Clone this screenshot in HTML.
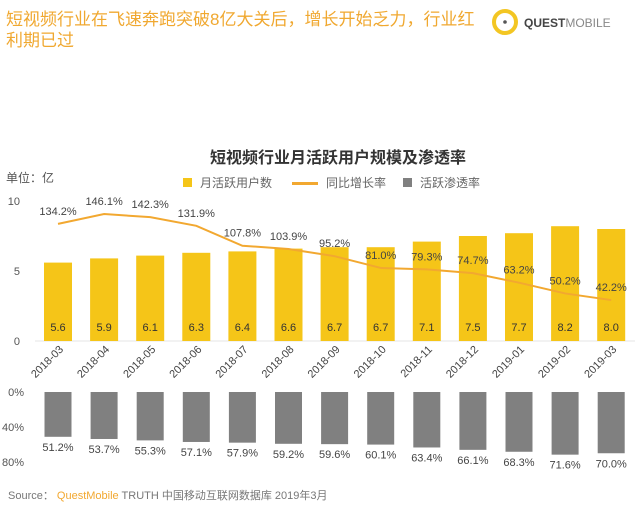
<!DOCTYPE html>
<html><head><meta charset="utf-8"><style>
body{margin:0;background:#fff;font-family:"Liberation Sans","Noto Sans CJK SC",sans-serif;}
#wrap{position:relative;width:640px;height:505px;overflow:hidden;background:#fff}
.t{position:absolute;white-space:nowrap}
</style></head><body>
<div id="wrap">
<div class="t" style="left:6px;top:9px;font-size:17px;line-height:21px;color:#f0a830;width:485px;white-space:normal">短视频行业在飞速奔跑突破8亿大关后，增长开始乏力，行业红利期已过</div>
<div style="position:absolute;left:490px;top:6px;width:150px;height:32px">
<svg width="150" height="32"><circle cx="15" cy="16" r="11" fill="none" stroke="#f3c623" stroke-width="4"/><circle cx="15" cy="16" r="1.8" fill="#555"/>
<text x="34" y="21" font-size="12" font-weight="bold" fill="#444" font-family="Liberation Sans,sans-serif">QUEST<tspan font-weight="normal" fill="#888">MOBILE</tspan></text></svg></div>
<div class="t" style="left:210px;top:144px;font-size:16px;font-weight:bold;color:#333">短视频行业月活跃用户规模及渗透率</div>
<div class="t" style="left:6px;top:169px;font-size:12px;color:#555">单位：亿</div>
<div class="t" style="left:183px;top:174px;font-size:12px;color:#666"><span style="display:inline-block;width:9px;height:9px;background:#f5c518;margin-right:8px"></span>月活跃用户数</div>
<div class="t" style="left:292px;top:174px;font-size:12px;color:#666"><span style="display:inline-block;width:26px;height:3px;background:#f2a830;vertical-align:middle;margin-right:8px"></span>同比增长率</div>
<div class="t" style="left:403px;top:174px;font-size:12px;color:#666"><span style="display:inline-block;width:9px;height:9px;background:#808080;margin-right:8px"></span>活跃渗透率</div>
<svg id="chart" width="640" height="505" style="position:absolute;left:0;top:0"></svg>
<div class="t" style="left:8px;top:487px;font-size:11px;color:#777">Source：&nbsp;<span style="color:#f2a830">QuestMobile</span> TRUTH 中国移动互联网数据库 2019年3月</div>
</div>
<script>
const categories=["2018-03","2018-04","2018-05","2018-06","2018-07","2018-08","2018-09","2018-10","2018-11","2018-12","2019-01","2019-02","2019-03"];
const mau=[5.6,5.9,6.1,6.3,6.4,6.6,6.7,6.7,7.1,7.5,7.7,8.2,8.0];
const growth=[134.2,146.1,142.3,131.9,107.8,103.9,95.2,81.0,79.3,74.7,63.2,50.2,42.2];
const penetration=[51.2,53.7,55.3,57.1,57.9,59.2,59.6,60.1,63.4,66.1,68.3,71.6,70.0];
const yTicks=[0,5,10];
const pTicks=[0,40,80];
const NS="http://www.w3.org/2000/svg";
const svg=document.getElementById('chart');
const xC=i=>58+i*46.1;
const yM=v=>341-v*14;
const yG=v=>335-v*0.828;
const yP=v=>392+v*0.875;
function mk(tag,attrs,txt){const e=document.createElementNS(NS,tag);for(const k in attrs)e.setAttribute(k,attrs[k]);if(txt!==undefined)e.textContent=txt;svg.appendChild(e);return e;}
mk('line',{x1:35,x2:635,y1:341,y2:341,stroke:'#e5e5e5'});
yTicks.forEach(v=>{const t=mk('text',{x:20,y:yM(v)+4,'font-size':11,fill:'#555','text-anchor':'end'},String(v));

});
pTicks.forEach(v=>{const t=mk('text',{x:24,y:yP(v)+4,'font-size':11,fill:'#555','text-anchor':'end'},v+'%');

});
mau.forEach((v,i)=>{const r=mk('rect',{x:xC(i)-14,y:yM(v),width:28,height:v*14,fill:'#f5c518'});


const t=mk('text',{x:xC(i),y:331,'font-size':11,fill:'#333','text-anchor':'middle'},v.toFixed(1));

});
const pts=growth.map((v,i)=>xC(i)+','+yG(v)).join(' ');
const pl=mk('polyline',{points:pts,fill:'none',stroke:'#f2a830','stroke-width':2});


growth.forEach((v,i)=>{const t=mk('text',{x:xC(i),y:yG(v)-9,'font-size':11,fill:'#444','text-anchor':'middle'},v.toFixed(1)+'%');

});
categories.forEach((c,i)=>{const t=mk('text',{x:xC(i)+6,y:350,'font-size':11,fill:'#444','text-anchor':'end',transform:`rotate(-45 ${xC(i)+6} 350)`},c);

});
penetration.forEach((v,i)=>{const r=mk('rect',{x:xC(i)-13.5,y:yP(0),width:27,height:v*0.875,fill:'#808080'});


const t=mk('text',{x:xC(i),y:yP(v)+14,'font-size':11,fill:'#444','text-anchor':'middle'},v.toFixed(1)+'%');

});
</script>
</body></html>
